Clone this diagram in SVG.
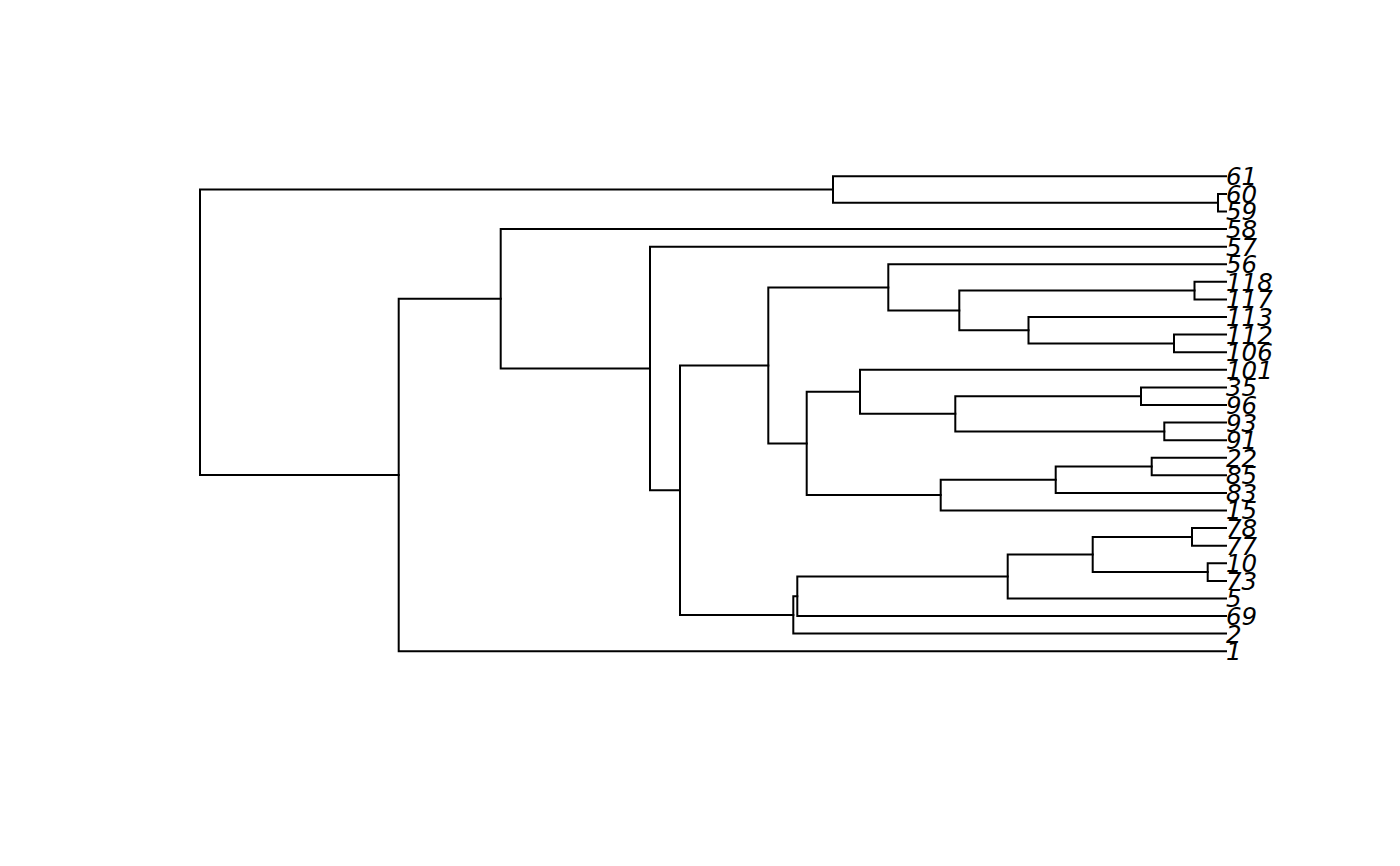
<svg xmlns="http://www.w3.org/2000/svg" width="1400" height="866" viewBox="0 0 1400 866">
<style>
.e{fill:none;stroke:#000;stroke-width:2;stroke-linecap:square}
.l{font-family:"DejaVu Sans",sans-serif;font-style:italic;font-size:24.5px;fill:#000}
</style>
<rect width="1400" height="866" fill="#fff"/>
<g id="connectors">
<path class="e" d="M1226,193.9 H1218 V211.5 H1226"/>
<path class="e" d="M1226,176.3 H833 V202.7 H1218"/>
<path class="e" d="M1226,281.8 H1194.5 V299.4 H1226"/>
<path class="e" d="M1226,334.6 H1174 V352.2 H1226"/>
<path class="e" d="M1226,317.0 H1028.5 V343.4 H1174"/>
<path class="e" d="M1194.5,290.6 H959.3 V330.2 H1028.5"/>
<path class="e" d="M1226,264.3 H888.3 V310.4 H959.3"/>
<path class="e" d="M1226,387.4 H1141 V405.0 H1226"/>
<path class="e" d="M1226,422.6 H1164.3 V440.2 H1226"/>
<path class="e" d="M1141,396.2 H955.3 V431.4 H1164.3"/>
<path class="e" d="M1226,369.8 H860 V413.8 H955.3"/>
<path class="e" d="M1226,457.7 H1151.7 V475.3 H1226"/>
<path class="e" d="M1151.7,466.5 H1055.7 V492.9 H1226"/>
<path class="e" d="M1055.7,479.7 H940.7 V510.5 H1226"/>
<path class="e" d="M860,391.8 H806.7 V495.1 H940.7"/>
<path class="e" d="M888.3,287.4 H768.3 V443.5 H806.7"/>
<path class="e" d="M1226,528.1 H1192 V545.7 H1226"/>
<path class="e" d="M1226,563.3 H1207.7 V580.9 H1226"/>
<path class="e" d="M1192,536.9 H1092.7 V572.1 H1207.7"/>
<path class="e" d="M1092.7,554.5 H1007.7 V598.5 H1226"/>
<path class="e" d="M1007.7,576.5 H797.3 V616.1 H1226"/>
<path class="e" d="M797.3,596.3 H793.3 V633.6 H1226"/>
<path class="e" d="M768.3,365.4 H680 V615.0 H793.3"/>
<path class="e" d="M1226,246.7 H650 V490.2 H680"/>
<path class="e" d="M1226,229.1 H500.7 V368.5 H650"/>
<path class="e" d="M500.7,298.8 H398.7 V651.2 H1226"/>
<path class="e" d="M833,189.5 H200 V475.0 H398.7"/>
</g>
<g id="n61"><text class="l" x="1226" y="185.2">61</text></g>
<g id="n60"><text class="l" x="1226" y="202.8">60</text></g>
<g id="n59"><text class="l" x="1226" y="220.4">59</text></g>
<g id="n58"><text class="l" x="1226" y="238">58</text></g>
<g id="n57"><text class="l" x="1226" y="255.6">57</text></g>
<g id="n56"><text class="l" x="1226" y="273.2">56</text></g>
<g id="n118"><text class="l" x="1226" y="290.7">118</text></g>
<g id="n117"><text class="l" x="1226" y="308.3">117</text></g>
<g id="n113"><text class="l" x="1226" y="325.9">113</text></g>
<g id="n112"><text class="l" x="1226" y="343.5">112</text></g>
<g id="n106"><text class="l" x="1226" y="361.1">106</text></g>
<g id="n101"><text class="l" x="1226" y="378.7">101</text></g>
<g id="n35"><text class="l" x="1226" y="396.3">35</text></g>
<g id="n96"><text class="l" x="1226" y="413.9">96</text></g>
<g id="n93"><text class="l" x="1226" y="431.5">93</text></g>
<g id="n91"><text class="l" x="1226" y="449.1">91</text></g>
<g id="n22"><text class="l" x="1226" y="466.6">22</text></g>
<g id="n85"><text class="l" x="1226" y="484.2">85</text></g>
<g id="n83"><text class="l" x="1226" y="501.8">83</text></g>
<g id="n15"><text class="l" x="1226" y="519.4">15</text></g>
<g id="n78"><text class="l" x="1226" y="537">78</text></g>
<g id="n77"><text class="l" x="1226" y="554.6">77</text></g>
<g id="n10"><text class="l" x="1226" y="572.2">10</text></g>
<g id="n73"><text class="l" x="1226" y="589.8">73</text></g>
<g id="n5"><text class="l" x="1226" y="607.4">5</text></g>
<g id="n69"><text class="l" x="1226" y="625">69</text></g>
<g id="n2"><text class="l" x="1226" y="642.5">2</text></g>
<g id="n1"><text class="l" x="1226" y="660.1">1</text></g>
</svg>
